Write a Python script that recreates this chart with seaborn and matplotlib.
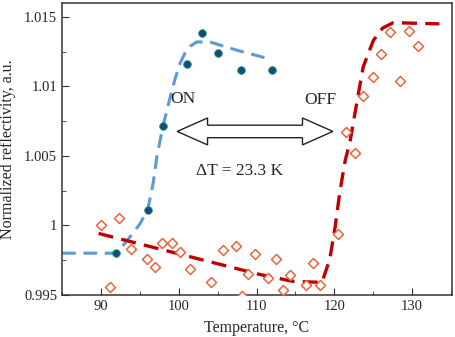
import numpy as np
import pandas as pd
import matplotlib
matplotlib.use("Agg")
import matplotlib.pyplot as plt
from matplotlib.patches import Polygon
from matplotlib.ticker import MultipleLocator, FormatStrFormatter
import seaborn as sns

# heating (ON) measurements
on_T = [92, 96, 98, 101, 103, 105, 108, 112]
on_R = [0.9980, 1.0011, 1.00716, 1.0116, 1.01385, 1.01237, 1.0112, 1.0112]

# cooling (OFF) measurements
off_T = [90.0, 92.3, 91.2, 93.9, 95.9, 96.9, 97.9, 99.1, 100.2, 101.5, 104.2,
         105.7, 107.3, 108.9, 108.1, 109.8, 111.5, 112.5, 113.4, 114.3, 116.3,
         117.3, 118.2, 120.4, 121.5, 122.6, 123.7, 124.9, 126.0, 127.1, 128.4,
         129.6, 130.7]
off_R = [1.0000, 1.0005, 0.99556, 0.99827, 0.99755, 0.99703, 0.99875, 0.99875,
         0.99808, 0.99683, 0.99592, 0.99820, 0.99849, 0.99647, 0.99495, 0.99796,
         0.99624, 0.99760, 0.99532, 0.99640, 0.99573, 0.99729, 0.99568, 0.99935,
         1.00670, 1.00520, 1.00930, 1.01070, 1.01230, 1.01390, 1.01040, 1.01400,
         1.01290]

# fitted guide curves
fit_on_T = [85, 92, 93.3, 95, 96, 96.7, 97.2, 98, 98.8, 99.5, 100.2, 100.8,
            101.5, 102.3, 104, 107.5, 111.5]
fit_on_R = [0.9980, 0.9980, 0.99885, 1.0001, 1.0011, 1.0030, 1.0050, 1.0072,
            1.0090, 1.0105, 1.0117, 1.0124, 1.0129, 1.0132, 1.0132, 1.0126,
            1.0120]
fit_off_T = [89.7, 110.4, 114.7, 118.4, 119.4, 120.1, 120.7, 121.4, 122.0,
             122.9, 123.7, 125.0, 126.2, 127.5, 128.8, 133.5]
fit_off_R = [0.99942, 0.99647, 0.99597, 0.99590, 0.99755, 0.99990, 1.00240,
             1.00470, 1.00600, 1.00890, 1.01140, 1.01330, 1.01420, 1.01457,
             1.01457, 1.01450]

# hysteresis arrow
arrow_T = [99.8, 119.8]
arrow_R = 1.00676

on_df = pd.DataFrame({"T": on_T, "R": on_R})
off_df = pd.DataFrame({"T": off_T, "R": off_R})
fon_df = pd.DataFrame({"T": fit_on_T, "R": fit_on_R})
foff_df = pd.DataFrame({"T": fit_off_T, "R": fit_off_R})

sns.set_style("ticks")
plt.rcParams["font.family"] = ["Liberation Serif", "DejaVu Serif"]

fig = plt.figure(figsize=(4.56, 3.37), dpi=100)
ax = fig.add_axes([0.136, 0.125, 0.855, 0.866])

sns.lineplot(data=fon_df, x="T", y="R", ax=ax, color="#5b9bd5", lw=2.2,
             sort=False, estimator=None)
ax.lines[-1].set_dashes([4.5, 2.5])
sns.lineplot(data=foff_df, x="T", y="R", ax=ax, color="#c00000", lw=2.4,
             sort=False, estimator=None)
ax.lines[-1].set_dashes([4.5, 2.5])

sns.scatterplot(data=off_df, x="T", y="R", ax=ax, marker="D", s=26,
                facecolor="white", edgecolor="#e8643c", linewidth=1.1, zorder=3)
sns.scatterplot(data=on_df, x="T", y="R", ax=ax, marker="o", s=30,
                color="#0b4f86", edgecolor="#2e8b57", linewidth=0.6, zorder=4)

# double-headed hollow arrow
hl = 3.9
hw = 0.00097
sw = 0.00045
x0, x1 = arrow_T
y = arrow_R
pts = [(x0, y), (x0 + hl, y + hw), (x0 + hl, y + sw), (x1 - hl, y + sw),
       (x1 - hl, y + hw), (x1, y), (x1 - hl, y - hw), (x1 - hl, y - sw),
       (x0 + hl, y - sw), (x0 + hl, y - hw)]
ax.add_patch(Polygon(pts, closed=True, facecolor="white", edgecolor="#222222",
                     lw=1.0, zorder=5))

ax.text(100.5, 1.0091, "ON", fontsize=12.5, ha="center", va="center")
ax.text(118.2, 1.0090, "OFF", fontsize=12.5, ha="center", va="center")
ax.text(107.8, 1.0039, "\u0394T = 23.3 K", fontsize=12.5, ha="center",
        va="center")

ax.set_xlim(85, 135.1)
ax.set_ylim(0.995, 1.016)
ax.xaxis.set_major_locator(MultipleLocator(10))
ax.xaxis.set_minor_locator(MultipleLocator(5))
ax.yaxis.set_major_locator(MultipleLocator(0.005))
ax.yaxis.set_minor_locator(MultipleLocator(0.0025))
ax.yaxis.set_major_formatter(FormatStrFormatter("%g"))
ax.tick_params(which="both", direction="in", labelsize=10.5, color="#333333")
ax.tick_params(which="major", length=5)
ax.tick_params(which="minor", length=3)
for s in ax.spines.values():
    s.set_color("#333333")
    s.set_linewidth(1.1)

ax.set_xlabel("Temperature, \u00b0C", fontsize=11.5, labelpad=5)
ax.set_ylabel("Normalized reflectivity, a.u.", fontsize=11.5, labelpad=6)

fig.savefig("out.png", dpi=100)
